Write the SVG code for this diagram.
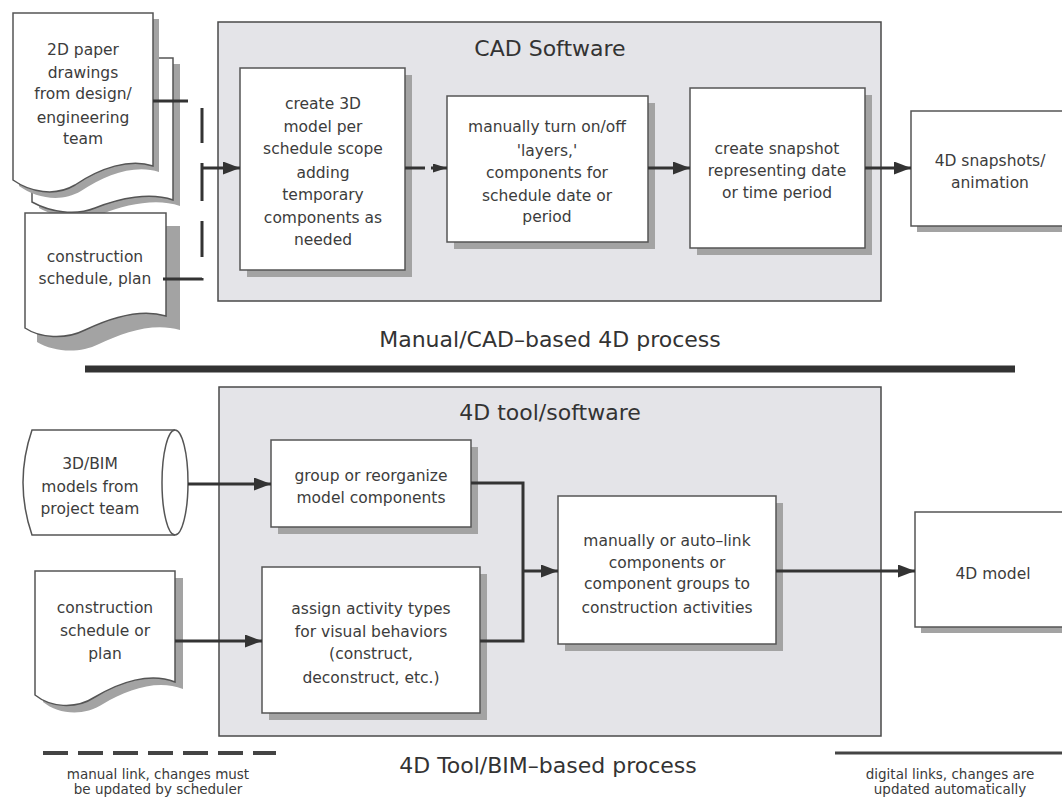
<svg xmlns="http://www.w3.org/2000/svg" width="1062" height="800" viewBox="0 0 1062 800">
<style>
.panel{fill:#e4e4e8;stroke:#4a4a4a;stroke-width:1.5}
.box{fill:#fff;stroke:#555;stroke-width:1.5}
.sh{fill:#a3a3a3}
.t{font-family:"DejaVu Sans","Liberation Sans",sans-serif;font-size:15.5px;fill:#3c3c3c;text-anchor:middle}
.ti{font-family:"DejaVu Sans","Liberation Sans",sans-serif;font-size:22px;fill:#333;text-anchor:middle}
.lg{font-family:"DejaVu Sans","Liberation Sans",sans-serif;font-size:13.5px;fill:#3a3a3a;text-anchor:middle}
.c{fill:none;stroke:#333;stroke-width:3}
</style>
<defs>
<marker id="ah" markerUnits="userSpaceOnUse" markerWidth="17" markerHeight="13" refX="17" refY="6.5" orient="auto"><path d="M0,0 L17,6.5 L0,13 z" fill="#333"/></marker>
<marker id="ahs" markerUnits="userSpaceOnUse" markerWidth="14" markerHeight="9" refX="14" refY="4.5" orient="auto"><path d="M0,0 L14,4.5 L0,9 z" fill="#333"/></marker>
</defs>
<rect width="1062" height="800" fill="#fff"/>

<!-- top panel -->
<g id="cad-panel">
<rect class="panel" x="218" y="22" width="663" height="279"/>
<text class="ti" x="550" y="56">CAD Software</text>
</g>
<text class="ti" x="550" y="347">Manual/CAD–based 4D process</text>
<line x1="85" y1="369" x2="1015" y2="369" stroke="#333" stroke-width="7"/>

<!-- bottom panel -->
<g id="tool-panel">
<rect class="panel" x="219" y="387" width="662" height="349"/>
<text class="ti" x="550" y="420">4D tool/software</text>
</g>
<text class="ti" x="548" y="773">4D Tool/BIM–based process</text>

<!-- docs top -->
<g id="doc-drawings">
<path class="sh" d="M39,64 H180 V206 C157,198 127,204 102,214 C82,222 57,218 39,208 Z"/>
<path class="box" d="M32,58 H173 V200 C150,192 120,198 95,208 C75,216 50,212 32,202 Z"/>
<path class="sh" d="M19,19 H159 V172 C136,164 106,174 81,191 C61,203 36,198 19,186 Z"/>
<path class="box" d="M13,13 H153 V166 C130,158 100,168 75,185 C55,197 30,192 13,180 Z"/>
<text class="t"><tspan x="83" y="55">2D paper</tspan><tspan x="83" y="78">drawings</tspan><tspan x="83" y="99">from design/</tspan><tspan x="83" y="123">engineering</tspan><tspan x="83" y="144">team</tspan></text>
</g>
<g id="doc-schedule">
<path class="sh" d="M37,226 H180 V330 C154,322 124,332 99,344 C79,354 54,352 37,342 Z"/>
<path class="box" d="M25,213 H166 V316 C140,308 110,318 85,330 C65,340 40,338 25,328 Z"/>
<text class="t"><tspan x="95" y="262">construction</tspan><tspan x="95" y="284">schedule, plan</tspan></text>
</g>

<g id="box-create3d">
<rect class="sh" x="247" y="75" width="165" height="202"/>
<rect class="box" x="240" y="68" width="165" height="202"/>
<text class="t"><tspan x="323" y="109">create 3D</tspan><tspan x="323" y="132">model per</tspan><tspan x="323" y="154">schedule scope</tspan><tspan x="323" y="178">adding</tspan><tspan x="323" y="200">temporary</tspan><tspan x="323" y="223">components as</tspan><tspan x="323" y="245">needed</tspan></text>
</g>
<g id="box-layers">
<rect class="sh" x="454" y="103" width="201" height="146"/>
<rect class="box" x="447" y="96" width="201" height="146"/>
<text class="t"><tspan x="547" y="132">manually turn on/off</tspan><tspan x="547" y="156">'layers,'</tspan><tspan x="547" y="178">components for</tspan><tspan x="547" y="201">schedule date or</tspan><tspan x="547" y="222">period</tspan></text>
</g>
<g id="box-snapshot">
<rect class="sh" x="697" y="95" width="175" height="160"/>
<rect class="box" x="690" y="88" width="175" height="160"/>
<text class="t"><tspan x="777" y="154">create snapshot</tspan><tspan x="777" y="176">representing date</tspan><tspan x="777" y="198">or time period</tspan></text>
</g>
<g id="box-4dsnap">
<rect class="sh" x="917" y="117" width="160" height="115"/>
<rect class="box" x="911" y="111" width="160" height="115"/>
<text class="t"><tspan x="990" y="166">4D snapshots/</tspan><tspan x="990" y="188">animation</tspan></text>
</g>

<!-- bottom nodes -->
<g id="cyl-bim">
<path class="box" d="M32,430 H175 A13,52.5 0 0 1 175,535 H32 Q14,482.5 32,430 Z"/>
<path fill="none" stroke="#555" stroke-width="1.5" d="M175,430 A13,52.5 0 0 0 175,535"/>
<text class="t"><tspan x="90" y="469">3D/BIM</tspan><tspan x="90" y="492">models from</tspan><tspan x="90" y="514">project team</tspan></text>
</g>
<g id="doc-schedule2">
<path class="sh" d="M43,578 H183 V689 C158,679 128,689 103,704 C83,717 58,714 43,702 Z"/>
<path class="box" d="M35,571 H175 V682 C150,672 120,682 95,697 C75,710 50,707 35,695 Z"/>
<text class="t"><tspan x="105" y="613">construction</tspan><tspan x="105" y="636">schedule or</tspan><tspan x="105" y="659">plan</tspan></text>
</g>
<g id="box-group">
<rect class="sh" x="278" y="447" width="200" height="87"/>
<rect class="box" x="271" y="440" width="200" height="87"/>
<text class="t"><tspan x="371" y="481">group or reorganize</tspan><tspan x="371" y="503">model components</tspan></text>
</g>
<g id="box-assign">
<rect class="sh" x="269" y="574" width="218" height="146"/>
<rect class="box" x="262" y="567" width="218" height="146"/>
<text class="t"><tspan x="371" y="614">assign activity types</tspan><tspan x="371" y="637">for visual behaviors</tspan><tspan x="371" y="659">(construct,</tspan><tspan x="371" y="683">deconstruct, etc.)</tspan></text>
</g>
<g id="box-link">
<rect class="sh" x="565" y="503" width="218" height="148"/>
<rect class="box" x="558" y="496" width="218" height="148"/>
<text class="t"><tspan x="667" y="546">manually or auto–link</tspan><tspan x="667" y="568">components or</tspan><tspan x="667" y="589">component groups to</tspan><tspan x="667" y="613">construction activities</tspan></text>
</g>
<g id="box-4dmodel">
<rect class="sh" x="921" y="518" width="160" height="115"/>
<rect class="box" x="915" y="512" width="160" height="115"/>
<text class="t" x="993" y="579">4D model</text>
</g>

<!-- connectors -->
<g id="connectors">
<path class="c" d="M153,101 H202 V279 H163" stroke-dasharray="35 21 35 20 38 20 36 21 42"/>
<path class="c" d="M202,168 H240" marker-end="url(#ah)"/>
<path class="c" d="M405,168 H447" stroke-width="2.5" stroke-dasharray="20 6 100" marker-end="url(#ahs)"/>
<path class="c" d="M648,168 H690" marker-end="url(#ah)"/>
<path class="c" d="M865,168 H911" marker-end="url(#ah)"/>
<path class="c" d="M188,484 H271" marker-end="url(#ah)"/>
<path class="c" d="M175,641 H262" marker-end="url(#ah)"/>
<path class="c" d="M471,483 H523 V641 H480"/>
<path class="c" d="M523,571 H558" marker-end="url(#ah)"/>
<path class="c" d="M776,571 H915" marker-end="url(#ah)"/>
</g>

<!-- legend -->
<g id="legend">
<line x1="43" y1="753" x2="276" y2="753" stroke="#444" stroke-width="4" stroke-dasharray="25 10"/>
<text class="lg"><tspan x="158" y="779">manual link, changes must</tspan><tspan x="158" y="794">be updated by scheduler</tspan></text>
<line x1="835" y1="753" x2="1062" y2="753" stroke="#444" stroke-width="3"/>
<text class="lg"><tspan x="950" y="779">digital links, changes are</tspan><tspan x="950" y="794">updated automatically</tspan></text>
</g>
</svg>
